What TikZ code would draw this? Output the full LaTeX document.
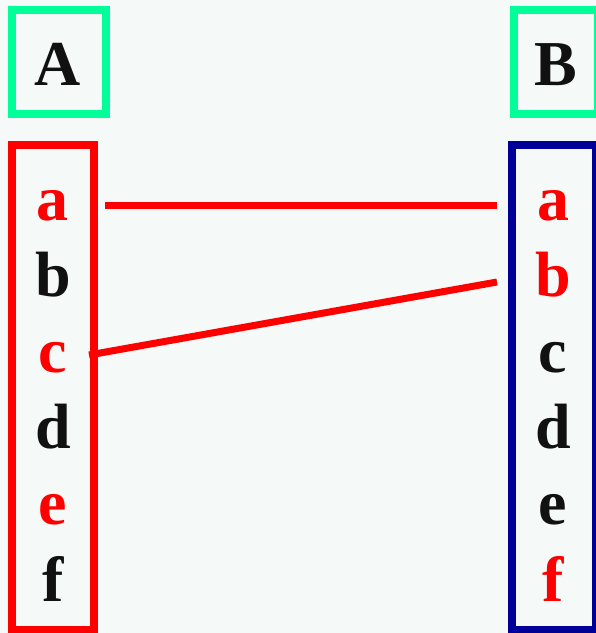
\documentclass[tikz,border=0pt]{standalone}
\usepackage{fontspec}
\setmainfont{Liberation Serif}
\definecolor{bg}{RGB}{245,250,248}
\definecolor{frgreen}{RGB}{0,255,153}
\definecolor{frred}{RGB}{255,0,0}
\definecolor{frblue}{RGB}{0,0,153}
\definecolor{ink}{RGB}{17,17,17}
\begin{document}
\begin{tikzpicture}[x=1pt,y=-1pt,
  frame/.style={line width=8pt},
  link/.style={line width=7pt,draw=frred},
  letter/.style={font=\fontsize{64}{64}\selectfont\bfseries,inner sep=0pt,anchor=base,text=ink},
  hot/.style={text=frred}]
\fill[bg] (0,0) rectangle (596,633);
\useasboundingbox (0,0) rectangle (596,633);
\draw[frame,draw=frgreen] (12,10) rectangle (106,114);
\draw[frame,draw=frgreen] (514,10) rectangle (598,114);
\draw[frame,draw=frred] (12,145) rectangle (94,630);
\draw[frame,draw=frblue] (512,145) rectangle (596,630);
\node[letter] (hA) at (58,85) {A};
\node[letter] (hB) at (556,85) {B};
\node[letter,hot] (la) at (53,220) {a};
\node[letter] (lb) at (53,296) {b};
\node[letter,hot] (lc) at (53,372) {c};
\node[letter] (ld) at (53,448) {d};
\node[letter,hot] (le) at (53,524) {e};
\node[letter] (lf) at (53,601) {f};
\node[letter,hot] (ra) at (553,220) {a};
\node[letter,hot] (rb) at (553,296) {b};
\node[letter] (rc) at (553,372) {c};
\node[letter] (rd) at (553,448) {d};
\node[letter] (re) at (553,524) {e};
\node[letter,hot] (rf) at (553,601) {f};
\coordinate (la1) at (105,205);
\coordinate (ra1) at (497,205);
\coordinate (lc1) at (89,355);
\coordinate (rb1) at (497,282);
\draw[link] (la1) -- (ra1);
\draw[link] (lc1) -- (rb1);
\end{tikzpicture}
\end{document}
